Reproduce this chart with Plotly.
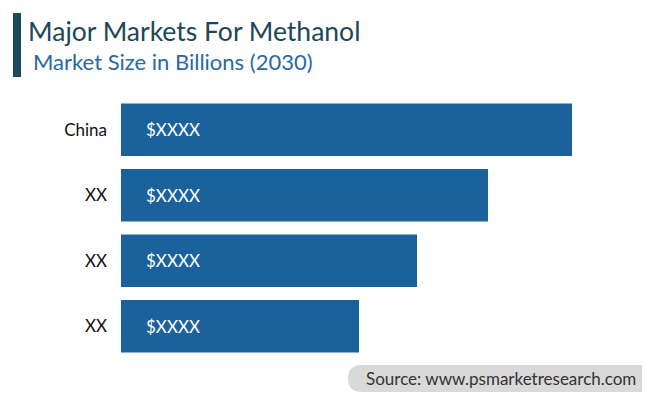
import plotly.graph_objects as go

categories = ["China", "XX", "XX", "XX"]
values = [451, 367, 296, 238]
bar_labels = ["$XXXX", "$XXXX", "$XXXX", "$XXXX"]

positions = list(range(len(categories)))

fig = go.Figure(go.Bar(
    x=values,
    y=positions,
    orientation="h",
    width=0.8,
    marker=dict(color="#1b629c", line=dict(width=0)),
    hoverinfo="skip",
))

# page has an 8px body margin; anchor decorations to window coordinates
PL = 121  # plot left in window px
PT = 97   # plot top in window px
PW = 500
PH = 262

fig.update_layout(
    width=650, height=408,
    margin=dict(l=PL - 8, r=650 - PL - PW + 8, t=PT - 8, b=408 - PT - PH + 8),
    paper_bgcolor="white", plot_bgcolor="white",
    showlegend=False,
    xaxis=dict(range=[0, PW], visible=False, fixedrange=True),
    yaxis=dict(
        range=[3.5, -0.5],
        tickvals=positions,
        ticktext=categories,
        showgrid=False, zeroline=False, showline=False,
        ticks="", ticklabelstandoff=13,
        tickfont=dict(size=17, color="#111111", family="Lato"),
        fixedrange=True,
    ),
)

for p, lab in zip(positions, bar_labels):
    fig.add_annotation(x=0, y=p, xref="x", yref="y", text=lab, showarrow=False,
                       xanchor="left", yanchor="middle", xshift=23,
                       font=dict(color="white", size=17, family="Lato"))

def wx(px):
    return (px - PL) / PW

def wy(py):
    return 1 - (py - PT) / PH

# Accent bar at left of title
fig.add_shape(type="rect", xref="paper", yref="paper",
              x0=wx(13), x1=wx(21), y0=wy(13), y1=wy(77),
              fillcolor="#1c4a5c", line=dict(width=0))

# Source pill
fig.add_shape(type="path", xref="paper", yref="paper",
              xsizemode="pixel", ysizemode="pixel", xanchor=wx(0), yanchor=1,
              path="M 362,-268 L 660,-268 L 660,-295 L 362,-295 Q 348,-295 348,-281.5 Q 348,-268 362,-268 Z",
              fillcolor="#d9d9d9", line=dict(width=0))

fig.add_annotation(text="Major Markets For Methanol", xref="paper", yref="paper",
                   x=wx(26), y=wy(31), xanchor="left", yanchor="middle",
                   showarrow=False, font=dict(size=26.5, color="#1d4757", family="Lato"))
fig.add_annotation(text="Market Size in Billions (2030)", xref="paper", yref="paper",
                   x=wx(31), y=wy(62), xanchor="left", yanchor="middle",
                   showarrow=False, font=dict(size=22, color="#2a68a2", family="Lato"))
fig.add_annotation(text="Source: www.psmarketresearch.com", xref="paper", yref="paper",
                   x=wx(638), y=wy(378), xanchor="right", yanchor="middle",
                   showarrow=False, font=dict(size=17, color="#333333", family="Lato"))

fig.write_html("out.html")
